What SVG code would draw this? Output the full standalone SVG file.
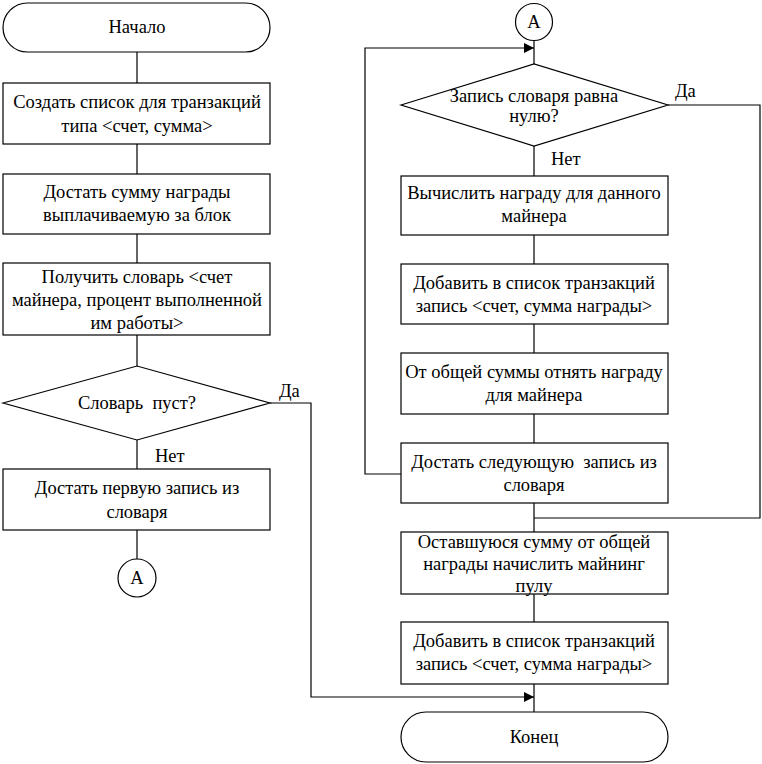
<svg xmlns="http://www.w3.org/2000/svg" width="762" height="764" viewBox="0 0 762 764" font-family="Liberation Serif, Times New Roman, serif" font-size="18.5">
<style>
.s{fill:#fff;stroke:#000;stroke-width:1.2}
.t{text-anchor:middle}
.c{fill:none;stroke:#000;stroke-width:1.2}
</style>
<defs>
<marker id="ar" viewBox="0 0 10 10" refX="10" refY="5" markerWidth="10" markerHeight="10" markerUnits="userSpaceOnUse" orient="auto">
<path d="M0,0 L10,5 L0,10 z" fill="#000"/>
</marker>
</defs>
<rect width="762" height="764" fill="#fff"/>
<g id="connectors">
<path class="c" d="M137,52 V83 M137,144 V174 M137,234 V263 M137,335 V366 M137,440 V469 M137,530 V559"/>
<path class="c" d="M270,403 H311 V697 H534" marker-end="url(#ar)"/>
<path class="c" d="M534,41 V64 M534,146 V176 M534,235 V264 M534,324 V353 M534,414 V443 M534,503 V532 M534,594 V622 M534,684 V712"/>
<path class="c" d="M401,474 H365 V48 H534" marker-end="url(#ar)"/>
<path class="c" d="M668,105 H760 V518 H534"/>
</g>
<g id="start"><rect class="s" x="3" y="3" width="267" height="49" rx="24.5"/><text class="t" x="137" y="33">Начало</text></g>
<g id="n1"><rect class="s" x="3" y="83" width="267" height="61"/><text class="t" x="137" y="108">Создать список для транзакций</text><text class="t" x="137" y="132">типа &lt;счет, сумма&gt;</text></g>
<g id="n2"><rect class="s" x="3" y="174" width="267" height="60"/><text class="t" x="137" y="198">Достать сумму награды</text><text class="t" x="137" y="221">выплачиваемую за блок</text></g>
<g id="n3"><rect class="s" x="3" y="263" width="267" height="72"/><text class="t" x="137" y="283">Получить словарь &lt;счет</text><text class="t" x="137" y="306">майнера, процент выполненной</text><text class="t" x="137" y="329">им работы&gt;</text></g>
<g id="d1"><polygon class="s" points="3,403 137,366 270,403 137,440"/><text class="t" x="137" y="409" xml:space="preserve">Словарь  пуст?</text><text x="279" y="397">Да</text><text x="155" y="462">Нет</text></g>
<g id="n4"><rect class="s" x="3" y="469" width="267" height="61"/><text class="t" x="137" y="494">Достать первую запись из</text><text class="t" x="137" y="518">словаря</text></g>
<g id="a1"><circle class="s" cx="137" cy="578" r="19"/><text class="t" x="137" y="584">А</text></g>
<g id="a2"><circle class="s" cx="534" cy="22" r="18.5"/><text class="t" x="534" y="28">А</text></g>
<g id="d2"><polygon class="s" points="401,105 534,64 668,105 534,146"/><text class="t" x="534" y="102">Запись словаря равна</text><text class="t" x="534" y="122">нулю?</text><text x="675" y="97">Да</text><text x="551" y="165">Нет</text></g>
<g id="n5"><rect class="s" x="401" y="176" width="267" height="59"/><text class="t" x="534" y="199">Вычислить награду для данного</text><text class="t" x="534" y="222">майнера</text></g>
<g id="n6"><rect class="s" x="401" y="264" width="267" height="60"/><text class="t" x="534" y="289">Добавить в список транзакций</text><text class="t" x="534" y="312">запись &lt;счет, сумма награды&gt;</text></g>
<g id="n7"><rect class="s" x="401" y="353" width="267" height="61"/><text class="t" x="534" y="378">От общей суммы отнять награду</text><text class="t" x="534" y="401">для майнера</text></g>
<g id="n8"><rect class="s" x="401" y="443" width="267" height="60"/><text class="t" x="534" y="468" xml:space="preserve">Достать следующую  запись из</text><text class="t" x="534" y="491">словаря</text></g>
<g id="n9"><rect class="s" x="401" y="532" width="267" height="62"/><text class="t" x="534" y="548">Оставшуюся сумму от общей</text><text class="t" x="534" y="570">награды начислить майнинг</text><text class="t" x="534" y="592">пулу</text></g>
<g id="n10"><rect class="s" x="401" y="622" width="267" height="62"/><text class="t" x="534" y="647">Добавить в список транзакций</text><text class="t" x="534" y="670">запись &lt;счет, сумма награды&gt;</text></g>
<g id="end"><rect class="s" x="401" y="712" width="267" height="50" rx="25"/><text class="t" x="534" y="743">Конец</text></g>
</svg>
